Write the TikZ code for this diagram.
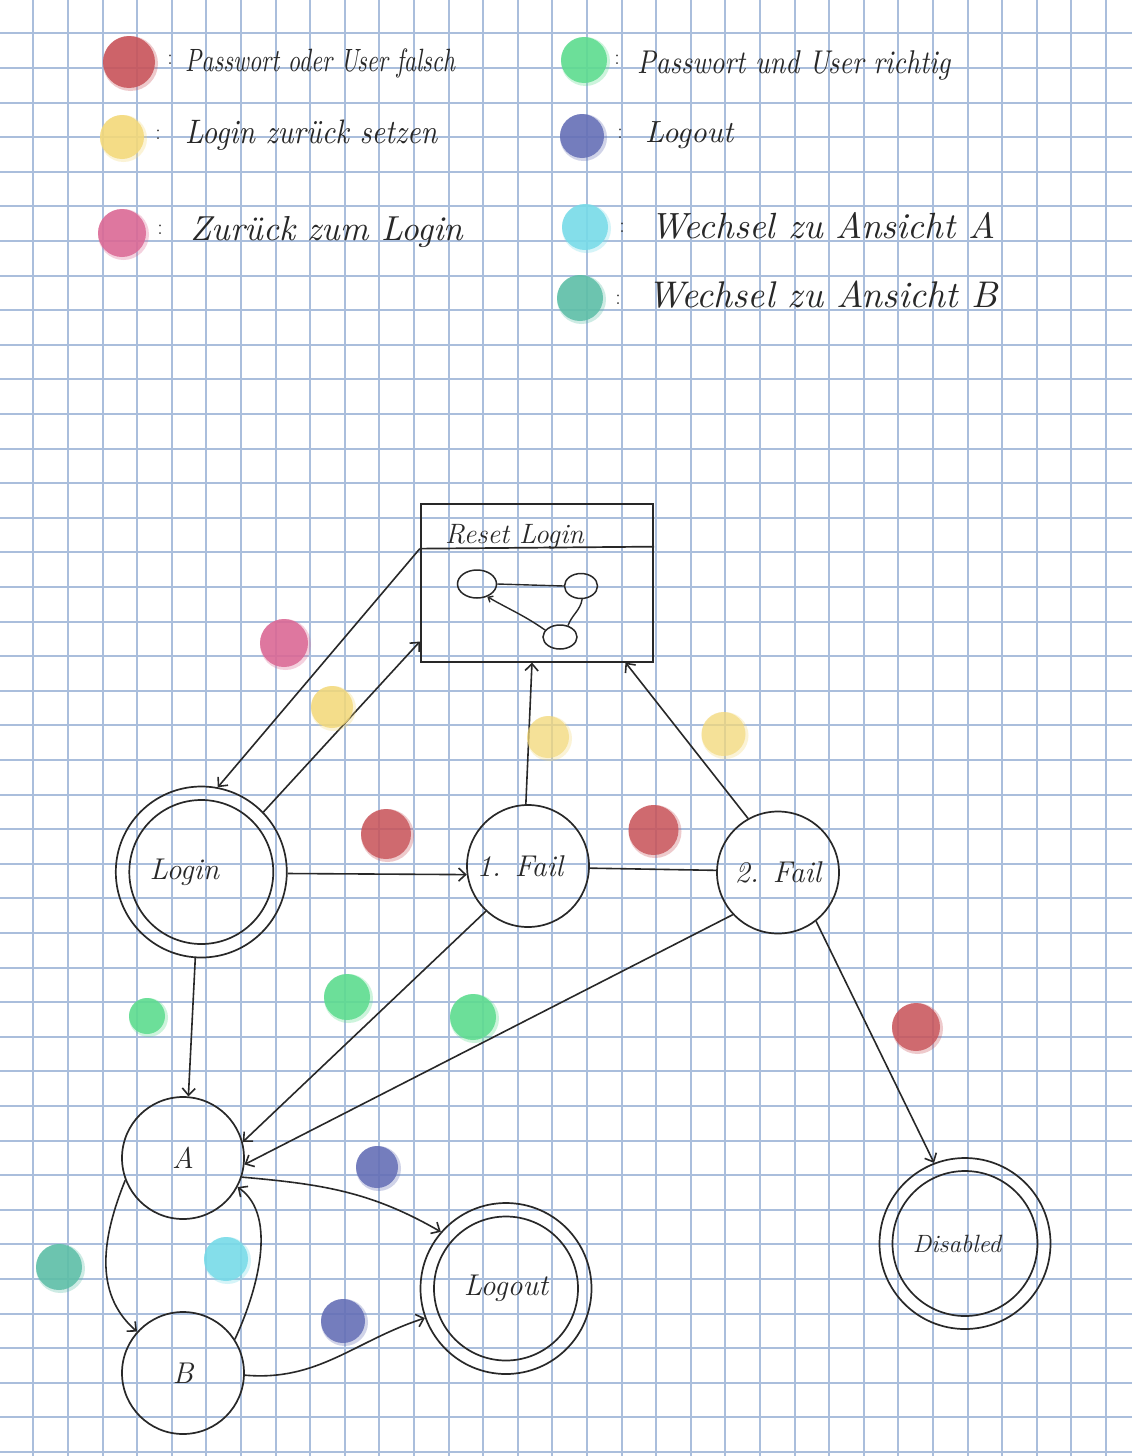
\documentclass[tikz,border=0pt]{standalone}
\usepackage{graphicx}
\usetikzlibrary{arrows.meta,shapes.geometric,calc}
\definecolor{gridc}{RGB}{170,190,220}
\definecolor{ink}{RGB}{40,40,40}
\definecolor{cred}{RGB}{200,82,88}
\definecolor{cyel}{RGB}{243,216,120}
\definecolor{cpink}{RGB}{219,104,148}
\definecolor{cgreen}{RGB}{92,220,142}
\definecolor{cblue}{RGB}{100,110,182}
\definecolor{ccyan}{RGB}{118,219,232}
\definecolor{cteal}{RGB}{92,190,166}
\newcommand\blob[5][0.85]{%
  \fill[#2,opacity=0.3] (#3+1.5,#4+1.5) circle[radius=#5pt+1.5pt];
  \fill[#2,opacity=#1] (#3,#4) circle[radius=#5pt];}
\newcommand\hw[3][1]{\scalebox{1}[#1]{\resizebox{#2}{!}{\itshape #3}}}
\begin{document}
\begin{tikzpicture}[x=1pt,y=-1pt,
  state/.style={circle, draw=ink, line width=1.7pt, minimum size=122pt, inner sep=0pt,
    font=\fontsize{30}{32}\selectfont\itshape, text=ink},
  acc/.style={state, minimum size=171pt},
  edge/.style={draw=ink, line width=1.6pt},
  arr/.style={edge, -{Straight Barb[length=7pt,width=13pt]}},
  legtext/.style={anchor=base west, inner sep=0pt, text=ink},
  colon/.style={inner sep=0pt, text=ink, font=\fontsize{22}{24}\selectfont},
  gridline/.style={gridc, line width=1.6pt}]
\useasboundingbox (0,0) rectangle (1132,1456);
\fill[white] (0,0) rectangle (1132,1456);
% grid paper (snapped to whole pixels for an even look)
\foreach \k in {1,...,32}
  \draw[gridline] ({round(-1.3+34.6*\k)},0) -- ({round(-1.3+34.6*\k)},1456);
\foreach \k in {1,...,42}
  \draw[gridline] (0,{round(-1.3+34.6*\k)}) -- (1132,{round(-1.3+34.6*\k)});

% legend
\blob{cred}{129}{62}{26}
\node[colon] (c1) at (170,60) {:};
\node[legtext] (l1) at (185,71) {\hw[1.35]{270pt}{Passwort oder User falsch}};
\blob{cyel}{122}{137}{22}
\node[colon] (c2) at (158,135) {:};
\node[legtext] (l2) at (185,143) {\hw[1.15]{252pt}{Login zurück setzen}};
\blob{cpink}{122}{233}{24}
\node[colon] (c3) at (160,230) {:};
\node[legtext] (l3) at (190,240) {\hw{273pt}{Zurück zum Login}};
\blob{cgreen}{584}{60}{23}
\node[colon] (c4) at (617,60) {:};
\node[legtext] (l4) at (637,73) {\hw[1.2]{313pt}{Passwort und User richtig}};
\blob{cblue}{582}{136}{22}
\node[colon] (c5) at (620,134) {:};
\node[legtext] (l5) at (645,142) {\hw{88pt}{Logout}};
\blob{ccyan}{585}{227}{23}
\node[colon] (c6) at (622,228) {:};
\node[legtext] (l6) at (650,238) {\hw{345pt}{Wechsel zu Ansicht A}};
\blob{cteal}{580}{298}{23}
\node[colon] (c7) at (618,300) {:};
\node[legtext] (l7) at (647,307) {\hw{350pt}{Wechsel zu Ansicht B}};

% Reset Login box
\node[draw=ink, line width=1.7pt, rectangle, minimum width=232.6pt, minimum height=157.7pt, inner sep=0pt] (reset) at (537,582.85) {};
\draw[ink, line width=1.7pt] ([yshift=-45.5pt]reset.north west) coordinate (hdrL) -- ([yshift=-43.5pt]reset.north east);
\node[legtext, font=\fontsize{28}{30}\selectfont\itshape] (title) at (445,543) {Reset Login};
\node[ellipse, draw=ink, line width=1.5pt, minimum width=39pt, minimum height=28pt, inner sep=0pt] (m1) at (477,584) {};
\node[ellipse, draw=ink, line width=1.5pt, minimum width=33pt, minimum height=25pt, inner sep=0pt] (m2) at (581,586) {};
\node[ellipse, draw=ink, line width=1.5pt, minimum width=34pt, minimum height=24pt, inner sep=0pt] (m3) at (560,637) {};
\draw[ink, line width=1.4pt] (m1.east) -- (m2.west);
\draw[ink, line width=1.4pt] (m2.-85) to[out=-100,in=70] (m3.55);
\draw[ink, line width=1.4pt, -{Straight Barb[length=4pt,width=7pt]}] (m3.155) to[out=145,in=-30] (m1.-51);

% states
\node[acc] (login) at (201.3,872) {\hspace*{-34pt}Login};
\draw[ink, line width=1.7pt] (login.center) circle[radius=72pt];
\node[state] (fail1) at (528,866) {\hspace*{-16pt}1. Fail};
\node[state] (fail2) at (778,872.5) {2. Fail};
\node[state] (A) at (183,1158) {A};
\node[state] (B) at (183,1373) {B};
\node[acc] (logout) at (506,1288.5) {Logout};
\draw[ink, line width=1.7pt] (logout.center) circle[radius=72pt];
\node[acc, font=\fontsize{25}{27}\selectfont\itshape] (disabled) at (965,1243.5) {\hspace*{-16pt}Disabled};
\draw[ink, line width=1.7pt] (disabled.center) circle[radius=72.5pt];

% transitions
\draw[arr] (hdrL) -- (login.79);
\draw[arr] (login.44) -- ([yshift=21pt]reset.south west);
\draw[arr] (fail1.92) -- ([xshift=-5pt]reset.south);
\draw[arr] (fail2.119) -- ([xshift=88.5pt]reset.south);
\draw[arr] (login.-1) -- (fail1.188);
\draw[edge] (fail1.-2) -- (fail2.178.6);
\draw[arr] (fail1.227.6) -- (A.15.5);
\draw[arr] (fail2.223.6) -- (A.-6.5);
\draw[arr] (login.-94.7) -- (A.85);
\draw[arr] (fail2.-52.8) -- (disabled.111.8);
\draw[arr] (A.-18) to[out=-5,in=150] (logout.139);
\draw[arr] (B.-2) to[out=-5,in=198] (logout.200);
\draw[arr] (A.201) to[out=248,in=139] (B.138);
\draw[arr] (B.33) to[out=65,in=-35,looseness=0.85] (A.-28);

% transition colour marks
\blob{cpink}{284}{643}{24}
\blob[0.8]{cyel}{332}{707}{21}
\blob[0.65]{cyel}{548}{737}{21}
\blob[0.65]{cyel}{723.5}{734}{22}
\blob[0.8]{cred}{386}{834}{25}
\blob[0.8]{cred}{653.5}{830}{25}
\blob{cgreen}{347}{997}{23}
\blob{cgreen}{473}{1017}{23}
\blob{cgreen}{147}{1016}{18}
\blob[0.8]{cred}{916}{1027}{24}
\blob{cblue}{377}{1167}{21}
\blob{cblue}{343}{1321}{22}
\blob{ccyan}{226}{1259}{22}
\blob{cteal}{59}{1267}{23}
\end{tikzpicture}
\end{document}
